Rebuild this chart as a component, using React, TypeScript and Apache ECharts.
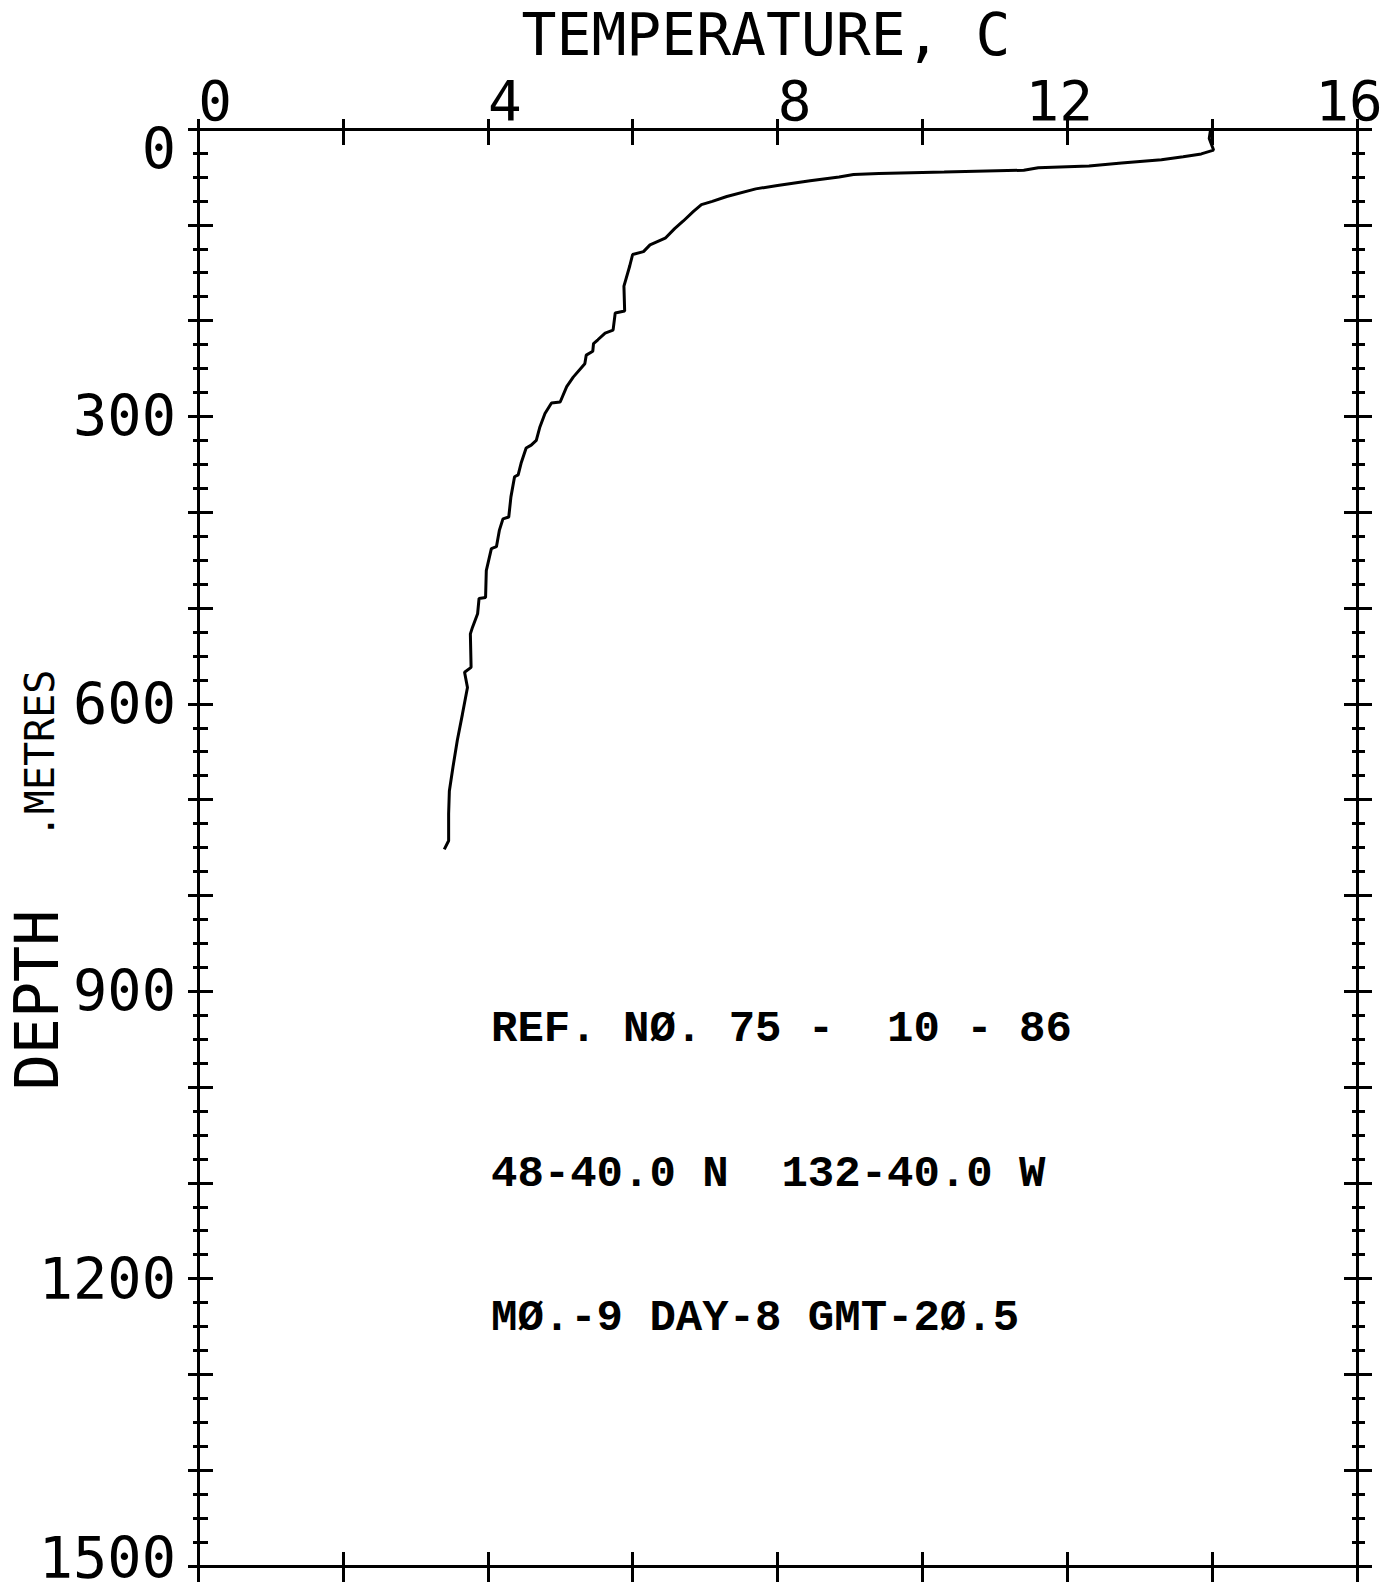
import React, { useEffect, useRef } from "react";
import * as echarts from "echarts";

// Temperature profile (deg C) versus depth (m)
const temperatureC = [
  13.98, 13.96, 14.02, 13.85, 13.6, 13.3, 12.75, 12.3, 11.6, 11.4,
  10.3, 9.4, 9.05, 8.85, 8.45, 8.0, 7.7, 7.3, 7.1, 6.95,
  6.84, 6.7, 6.58, 6.45, 6.24, 6.15, 6.0, 5.96, 5.88, 5.89,
  5.76, 5.73, 5.62, 5.52, 5.46, 5.45, 5.36, 5.34, 5.18, 5.09,
  5.0, 4.88, 4.79, 4.72, 4.67, 4.6, 4.53, 4.46, 4.42, 4.37,
  4.32, 4.29, 4.21, 4.16, 4.12, 4.05, 3.98, 3.97, 3.88, 3.86,
  3.79, 3.76, 3.77, 3.68, 3.72, 3.65, 3.58, 3.52, 3.47, 3.46,
  3.46, 3.4,
];
const depthM = [
  0, 10, 22, 26, 29, 32, 35.5, 38.5, 40.5, 43,
  45, 46.5, 47.5, 50, 54, 59, 62.5, 70.5, 75.5, 79,
  86, 96, 104, 114, 121, 128, 131, 143, 164, 190,
  192, 210, 213, 220, 224, 232, 236, 245, 259, 269,
  285, 286, 297, 311, 325, 330, 333, 349, 361, 363,
  384, 405, 407, 419, 436, 438, 461, 489, 490, 506,
  520, 527, 562, 567, 583, 611, 638, 666, 691, 715,
  743, 752,
];

const tempTickLabels = [0, 4, 8, 12, 16];
const depthTickLabels = [0, 300, 600, 900, 1200, 1500];

const xTitle = "TEMPERATURE, C";
const yTitle = "DEPTH";
const yUnit = ".METRES";
const infoLines = [
  "REF. NØ. 75 -  10 - 86",
  "48-40.0 N  132-40.0 W",
  "MØ.-9 DAY-8 GMT-2Ø.5",
];

const MONO = "'DejaVu Sans Mono', monospace";
const INFO_FONT = "'Liberation Mono', 'DejaVu Sans Mono', monospace";

export default function App() {
  const ref = useRef<HTMLDivElement>(null);

  useEffect(() => {
    if (!ref.current) return;
    const chart = echarts.init(ref.current, undefined, { renderer: "svg" });

    const lineStyle = { color: "#000", width: 3 };
    const xBase = {
      type: "value",
      min: 0,
      max: 16,
      interval: 2,
      splitLine: { show: false },
    };
    const yBase = {
      type: "value",
      min: 0,
      max: 1500,
      inverse: true,
      splitLine: { show: false },
    };
    const tick = (inside: boolean, length: number) => ({
      show: true,
      inside,
      length,
      lineStyle: { color: "#000", width: 3 },
    });
    const noLine = { show: false, onZero: false };
    const withLine = { show: true, onZero: false, lineStyle };
    const xLabelFont = { fontFamily: MONO, fontSize: 56, lineHeight: 44, color: "#000" };
    const yLabelFont = { fontFamily: MONO, fontSize: 57, lineHeight: 44, color: "#000" };

    const seriesData = temperatureC.map((t, i) => [t, depthM[i]]);

    const option = {
      animation: false,
      backgroundColor: "#fff",
      grid: {
        left: 198,
        right: 34,
        top: 129,
        bottom: 26,
        containLabel: false,
        outerBoundsMode: "none",
      },
      xAxis: [
        {
          ...xBase,
          position: "top",
          axisLine: withLine,
          axisTick: tick(false, 10),
          axisLabel: {
            show: true,
            showMinLabel: true,
            showMaxLabel: true,
            margin: 29,
            verticalAlign: "middle",
            ...xLabelFont,
            formatter: (v: number) => {
              if (!tempTickLabels.includes(v)) return "";
              return v < 10 ? `{a|${v}}` : `{b|${v}}`;
            },
            rich: {
              a: { ...xLabelFont, padding: [0, 0, 0, 34] },
              b: { ...xLabelFont, padding: [0, 16, 0, 0] },
            },
          },
        },
        { ...xBase, position: "top", axisLine: noLine, axisTick: tick(true, 16), axisLabel: { show: false } },
        { ...xBase, position: "bottom", axisLine: withLine, axisTick: tick(false, 16), axisLabel: { show: false } },
        { ...xBase, position: "bottom", axisLine: noLine, axisTick: tick(true, 14), axisLabel: { show: false } },
      ],
      yAxis: [
        {
          ...yBase,
          position: "left",
          interval: 100,
          axisLine: withLine,
          axisTick: tick(false, 10),
          axisLabel: {
            show: true,
            showMinLabel: true,
            showMaxLabel: true,
            margin: 22,
            ...yLabelFont,
            formatter: (v: number) => {
              if (!depthTickLabels.includes(v)) return "";
              if (v === 0) return "{z|0}";
              if (v === 1500) return "{e|1500}";
              return String(v);
            },
            rich: {
              z: { ...yLabelFont, padding: [40, 0, 0, 0] },
              e: { ...yLabelFont, padding: [0, 0, 16, 0] },
            },
          },
        },
        { ...yBase, position: "left", interval: 100, axisLine: noLine, axisTick: tick(true, 15), axisLabel: { show: false } },
        { ...yBase, position: "left", interval: 25, axisLine: noLine, axisTick: tick(false, 5), axisLabel: { show: false } },
        { ...yBase, position: "left", interval: 25, axisLine: noLine, axisTick: tick(true, 10), axisLabel: { show: false } },
        { ...yBase, position: "right", interval: 100, axisLine: withLine, axisTick: tick(false, 15), axisLabel: { show: false } },
        { ...yBase, position: "right", interval: 100, axisLine: noLine, axisTick: tick(true, 13), axisLabel: { show: false } },
        { ...yBase, position: "right", interval: 25, axisLine: noLine, axisTick: tick(false, 8), axisLabel: { show: false } },
        { ...yBase, position: "right", interval: 25, axisLine: noLine, axisTick: tick(true, 5), axisLabel: { show: false } },
      ],
      series: [
        {
          type: "line",
          xAxisIndex: 0,
          yAxisIndex: 0,
          data: seriesData,
          showSymbol: false,
          symbol: "none",
          lineStyle: { color: "#000", width: 3 },
          z: 5,
        },
      ],
      graphic: [
        {
          type: "text",
          x: 766,
          y: 35,
          style: {
            text: xTitle,
            fill: "#000",
            fontFamily: MONO,
            fontSize: 58,
            lineHeight: 48,
            align: "center",
            verticalAlign: "middle",
            textAlign: "center",
            textVerticalAlign: "middle",
          },
        },
        {
          type: "text",
          x: 37,
          y: 1000,
          rotation: Math.PI / 2,
          style: {
            text: yTitle,
            fill: "#000",
            fontFamily: MONO,
            fontSize: 60,
            align: "center",
            verticalAlign: "middle",
            textAlign: "center",
            textVerticalAlign: "middle",
          },
        },
        {
          type: "text",
          x: 40,
          y: 754,
          rotation: Math.PI / 2,
          style: {
            text: yUnit,
            fill: "#000",
            fontFamily: MONO,
            fontSize: 40,
            align: "center",
            verticalAlign: "middle",
            textAlign: "center",
            textVerticalAlign: "middle",
          },
        },
        ...infoLines.map((t, i) => ({
          type: "text",
          x: 491,
          y: [1029, 1174, 1318][i],
          style: {
            text: t,
            fill: "#000",
            fontFamily: INFO_FONT,
            fontWeight: "bold",
            fontSize: 44,
            align: "left",
            verticalAlign: "middle",
            textAlign: "left",
            textVerticalAlign: "middle",
          },
        })),
      ],
    };

    chart.setOption(option as any);
    return () => chart.dispose();
  }, []);

  return (
    <div
      ref={ref}
      style={{ position: "fixed", left: 0, top: 0, width: 1391, height: 1592, background: "#fff" }}
    />
  );
}
